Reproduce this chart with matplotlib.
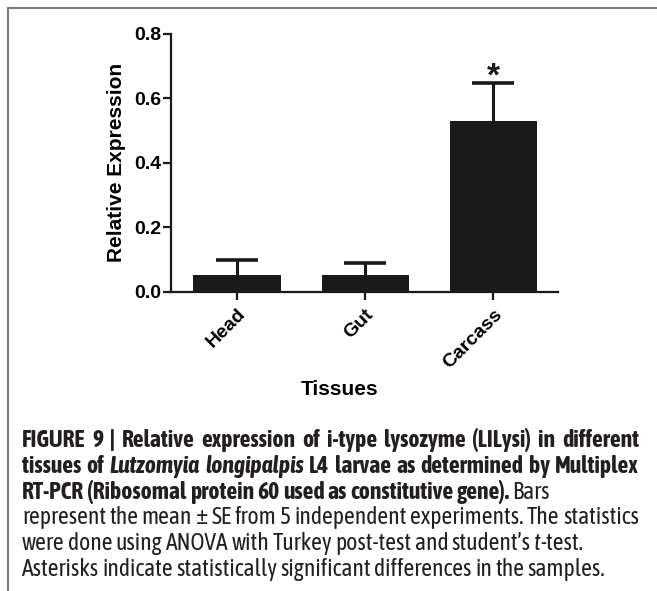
import numpy as np
import matplotlib
matplotlib.use("Agg")
import matplotlib.pyplot as plt
from matplotlib import font_manager
from matplotlib.lines import Line2D

# Data
tissues = ["Head", "Gut", "Carcass"]
means = [0.052, 0.052, 0.530]
se = [0.045, 0.036, 0.118]
significant = [False, False, True]
yticks = [0.0, 0.2, 0.4, 0.6, 0.8]

# Caption (text, style) runs per line
cap_lines = [
    [("FIGURE 9 | Relative expression of i-type lysozyme (LILysi) in different", "b")],
    [("tissues of", "b"), (" Lutzomyia longipalpis", "bi"), (" L4 larvae as determined by Multiplex", "b")],
    [("RT-PCR (Ribosomal protein 60 used as constitutive gene).", "b"), (" Bars", "r")],
    [("represent the mean \u00b1 SE from 5 independent experiments. The statistics", "r")],
    [("were done using ANOVA with Turkey post-test and student\u2019s", "r"), (" t", "i"), ("-test.", "r")],
    [("Asterisks indicate statistically significant differences in the samples.", "r")],
]
justify = [True, True, False, True, False, False]

W, H = 657, 591
fig = plt.figure(figsize=(W / 100, H / 100), dpi=100)
renderer = fig.canvas.get_renderer()

fonts = font_manager.fontManager.ttflist
names = {f.name for f in fonts}
plot_family = "Liberation Sans" if "Liberation Sans" in names else "DejaVu Sans"


def has_bold(name, stretch=None):
    return any(f.name == name and (stretch is None or f.stretch == stretch)
               and isinstance(f.weight, int) and f.weight >= 700 for f in fonts)


# caption wants a narrow sans with a bold face
cap_family, cap_stretch = plot_family, "normal"
narrow = sorted({f.name for f in fonts if "Narrow" in f.name or "Condensed" in f.name})
narrow = [n for n in narrow if has_bold(n)]
if "Liberation Sans Narrow" in narrow:
    cap_family = "Liberation Sans Narrow"
elif narrow:
    cap_family = narrow[0]
elif has_bold("DejaVu Sans", "condensed"):
    cap_family, cap_stretch = "DejaVu Sans", "condensed"

# frame lines (top and left)
fig.add_artist(Line2D([7.5 / W, 1], [1 - 7.5 / H] * 2, color="#7a7a7a", lw=1.5))
fig.add_artist(Line2D([7.5 / W] * 2, [1 - 7.5 / H, 0], color="#7a7a7a", lw=1.5))

# axes box in pixels
x0, x1, y0, y1 = 171, 558, 291.7, 34
ax = fig.add_axes([x0 / W, 1 - y0 / H, (x1 - x0) / W, (y0 - y1) / H])
ink = "#1a1a1a"
x = np.arange(len(tissues))
ax.bar(x, means, width=0.68, color=ink, zorder=2)
eb = ax.errorbar(x, means, yerr=[np.zeros(len(se)), se], fmt="none", ecolor=ink,
                 elinewidth=2.2, capsize=15, capthick=2.6, zorder=1)
eb[1][0].set_visible(False)  # no lower caps, bars show only +SE
for i in range(len(tissues)):
    if significant[i]:
        ax.annotate("*", (x[i], means[i] + se[i]), xytext=(0, -2), textcoords="offset points",
                    ha="center", va="baseline", fontsize=24, fontweight="bold",
                    family=plot_family, color=ink)

ax.set_xlim(-0.515, 2.503)
ax.set_ylim(0, 0.8)
ax.set_yticks(yticks)
ax.set_yticklabels([f"{v:.1f}" for v in yticks], fontsize=14, fontweight="bold", family=plot_family)
ax.set_xticks(x)
ax.set_xticklabels(tissues, rotation=45, ha="right", va="top", rotation_mode="anchor",
                   fontsize=14, fontweight="bold", family=plot_family)
ax.tick_params(axis="y", length=6, width=1.6, pad=1, color=ink)
ax.tick_params(axis="x", length=6, width=1.6, pad=4, color=ink)
for s in ["top", "right"]:
    ax.spines[s].set_visible(False)
for s in ["left", "bottom"]:
    ax.spines[s].set_linewidth(1.6)
    ax.spines[s].set_color(ink)

ax.set_ylabel("Relative Expression", fontsize=15, fontweight="bold", family=plot_family)
ax.yaxis.set_label_coords((126 - x0) / (x1 - x0), 0.5)
ax.set_xlabel("Tissues", fontsize=15, fontweight="bold", family=plot_family)
ax.xaxis.set_label_coords((339.5 - x0) / (x1 - x0), (y0 - 380) / (y0 - y1))

# caption
styles = {"b": ("bold", "normal"), "bi": ("bold", "italic"), "r": ("normal", "normal"), "i": ("normal", "italic")}
cap_left, cap_right = 22, 639
cap_color = "#231f20"


def cap_text(s, size, st, xp=0, yp=0):
    return fig.text(xp, yp, s, fontsize=size, fontweight=styles[st][0], fontstyle=styles[st][1],
                    family=cap_family, stretch=cap_stretch, color=cap_color, va="baseline")


def width_of(s, size, st):
    t = cap_text(s, size, st)
    w = t.get_window_extent(renderer).width
    t.remove()
    return w


def tokens_of(line):
    out = []
    for text, st in line:
        for j, w in enumerate(text.split(" ")):
            if w:
                out.append((w, st, j > 0 and len(out) > 0))
    return out


# pick a size so every justified line fits with at least normal word spaces
sizes = []
for line, just in zip(cap_lines, justify):
    if just:
        toks = tokens_of(line)
        nat = sum(width_of(w, 10, st) + (width_of("n n", 10, st) - width_of("nn", 10, st) if sp else 0)
                  for w, st, sp in toks)
        sizes.append(10 * (cap_right - cap_left) / nat)
cap_size = min(sizes)
space_w = width_of("n n", cap_size, "r") - width_of("nn", cap_size, "r")

baseline = 447
for line, just in zip(cap_lines, justify):
    arts, total, gaps = [], 0, 0
    for w, st, sp in tokens_of(line):
        t = cap_text(w, cap_size, st, 0, 1 - baseline / H)
        tw = t.get_window_extent(renderer).width
        arts.append((t, tw, sp))
        total += tw
        gaps += 1 if sp else 0
    gap = (cap_right - cap_left - total) / gaps if just else space_w
    xp = cap_left
    for t, tw, sp in arts:
        if sp:
            xp += gap
        t.set_x(xp / W)
        xp += tw
    baseline += 25.8

fig.savefig("out.png", dpi=100)
